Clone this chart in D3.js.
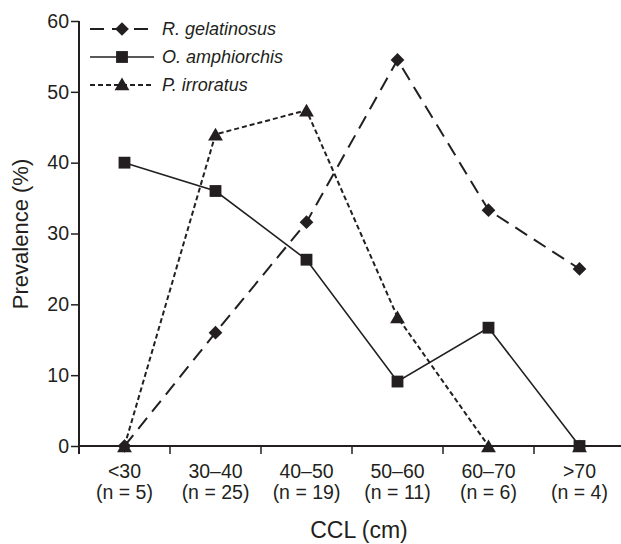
<!DOCTYPE html>
<html>
<head>
<meta charset="utf-8">
<script src="https://cdn.jsdelivr.net/npm/d3@7"></script>
<style>
  body { margin: 0; background: #fff; }
  text { font-family: "Liberation Sans", Arial, sans-serif; fill: #231f20; }
</style>
</head>
<body>
<div id="chart"></div>
<script>
// size classes and sample sizes
const categories = ["<30", "30–40", "40–50", "50–60", "60–70", ">70"];
const sampleSizes = ["(n = 5)", "(n = 25)", "(n = 19)", "(n = 11)", "(n = 6)", "(n = 4)"];

// prevalence (%) per parasite
const gelatinosus = [0, 16, 31.6, 54.5, 33.3, 25];
const amphiorchis = [40, 36, 26.3, 9.1, 16.7, 0];
const irroratus = [0, 44, 47.4, 18.2, 0, 0];

const yTicks = [0, 10, 20, 30, 40, 50, 60];

const series = [
  { name: "R. gelatinosus", values: gelatinosus, symbol: d3.symbolDiamond2, size: 120, dash: "14,8", width: 2 },
  { name: "O. amphiorchis", values: amphiorchis, symbol: d3.symbolSquare, size: 140, dash: null, width: 1.6 },
  { name: "P. irroratus", values: irroratus, symbol: d3.symbolTriangle, size: 95, dash: "5,3", width: 2 }
];

const width = 621, height = 544;
const ink = "#231f20";

const svg = d3.select("#chart").append("svg")
  .attr("width", width)
  .attr("height", height);

const x = d3.scaleBand().domain(categories).range([79, 625]);
const y = d3.scaleLinear().domain([0, 60]).range([446, 21]);

// y axis
const yAxis = svg.append("g").attr("transform", "translate(79,0)")
  .call(d3.axisLeft(y).tickValues(yTicks).tickSize(8).tickPadding(2));
yAxis.select(".domain").remove();
yAxis.selectAll("line").attr("stroke", ink).attr("stroke-width", 1.5);
yAxis.selectAll("text").style("font-size", "19.5px").attr("fill", ink);
svg.append("line")
  .attr("x1", 79).attr("x2", 79)
  .attr("y1", y(60)).attr("y2", y(0) + 8)
  .attr("stroke", ink).attr("stroke-width", 2);

// x axis line and band ticks
svg.append("line")
  .attr("x1", 79).attr("x2", 625)
  .attr("y1", y(0)).attr("y2", y(0))
  .attr("stroke", ink).attr("stroke-width", 2);
svg.append("g").selectAll("line")
  .data(categories.slice(1))
  .join("line")
  .attr("x1", d => x(d)).attr("x2", d => x(d))
  .attr("y1", y(0)).attr("y2", y(0) + 8)
  .attr("stroke", ink).attr("stroke-width", 1.5);

const labels = svg.append("g").selectAll("text")
  .data(categories)
  .join("text")
  .attr("text-anchor", "middle")
  .style("font-size", "19.5px");
labels.append("tspan")
  .attr("x", d => x(d) + x.bandwidth() / 2)
  .attr("y", 478)
  .text(d => d);
labels.append("tspan")
  .attr("x", d => x(d) + x.bandwidth() / 2)
  .attr("y", 499)
  .text((d, i) => sampleSizes[i]);

// axis titles
svg.append("text")
  .attr("x", 359).attr("y", 538)
  .attr("text-anchor", "middle")
  .style("font-size", "23px")
  .text("CCL (cm)");
svg.append("text")
  .attr("transform", "translate(28,234) rotate(-90)")
  .attr("text-anchor", "middle")
  .style("font-size", "22px")
  .text("Prevalence (%)");

const cx = d => x(d) + x.bandwidth() / 2;
const line = d3.line().x(d => cx(d[0])).y(d => y(d[1]));

series.forEach(s => {
  const pts = categories.map((c, i) => [c, s.values[i]]);
  svg.append("path")
    .attr("d", line(pts))
    .attr("fill", "none")
    .attr("stroke", ink)
    .attr("stroke-width", s.width)
    .attr("stroke-dasharray", s.dash);
  svg.append("g").selectAll("path")
    .data(pts)
    .join("path")
    .attr("transform", d => `translate(${cx(d[0])},${y(d[1]) + (s.symbol === d3.symbolTriangle ? 2 : 0)})`)
    .attr("d", d3.symbol(s.symbol, s.size))
    .attr("fill", ink);
});

// legend
const legend = svg.append("g").selectAll("g")
  .data(series)
  .join("g")
  .attr("transform", (d, i) => `translate(0,${29 + i * 28})`);
legend.append("line")
  .attr("x1", 90).attr("x2", 154)
  .attr("stroke", ink)
  .attr("stroke-width", d => d.width)
  .attr("stroke-dasharray", d => d.dash);
legend.append("path")
  .attr("transform", d => `translate(122,${d.symbol === d3.symbolTriangle ? 1 : 0})`)
  .attr("d", d => d3.symbol(d.symbol, d.size)())
  .attr("fill", ink);
legend.append("text")
  .attr("x", 162).attr("dy", "0.35em")
  .style("font-size", "18px")
  .style("font-style", "italic")
  .text(d => d.name);
</script>
</body>
</html>
